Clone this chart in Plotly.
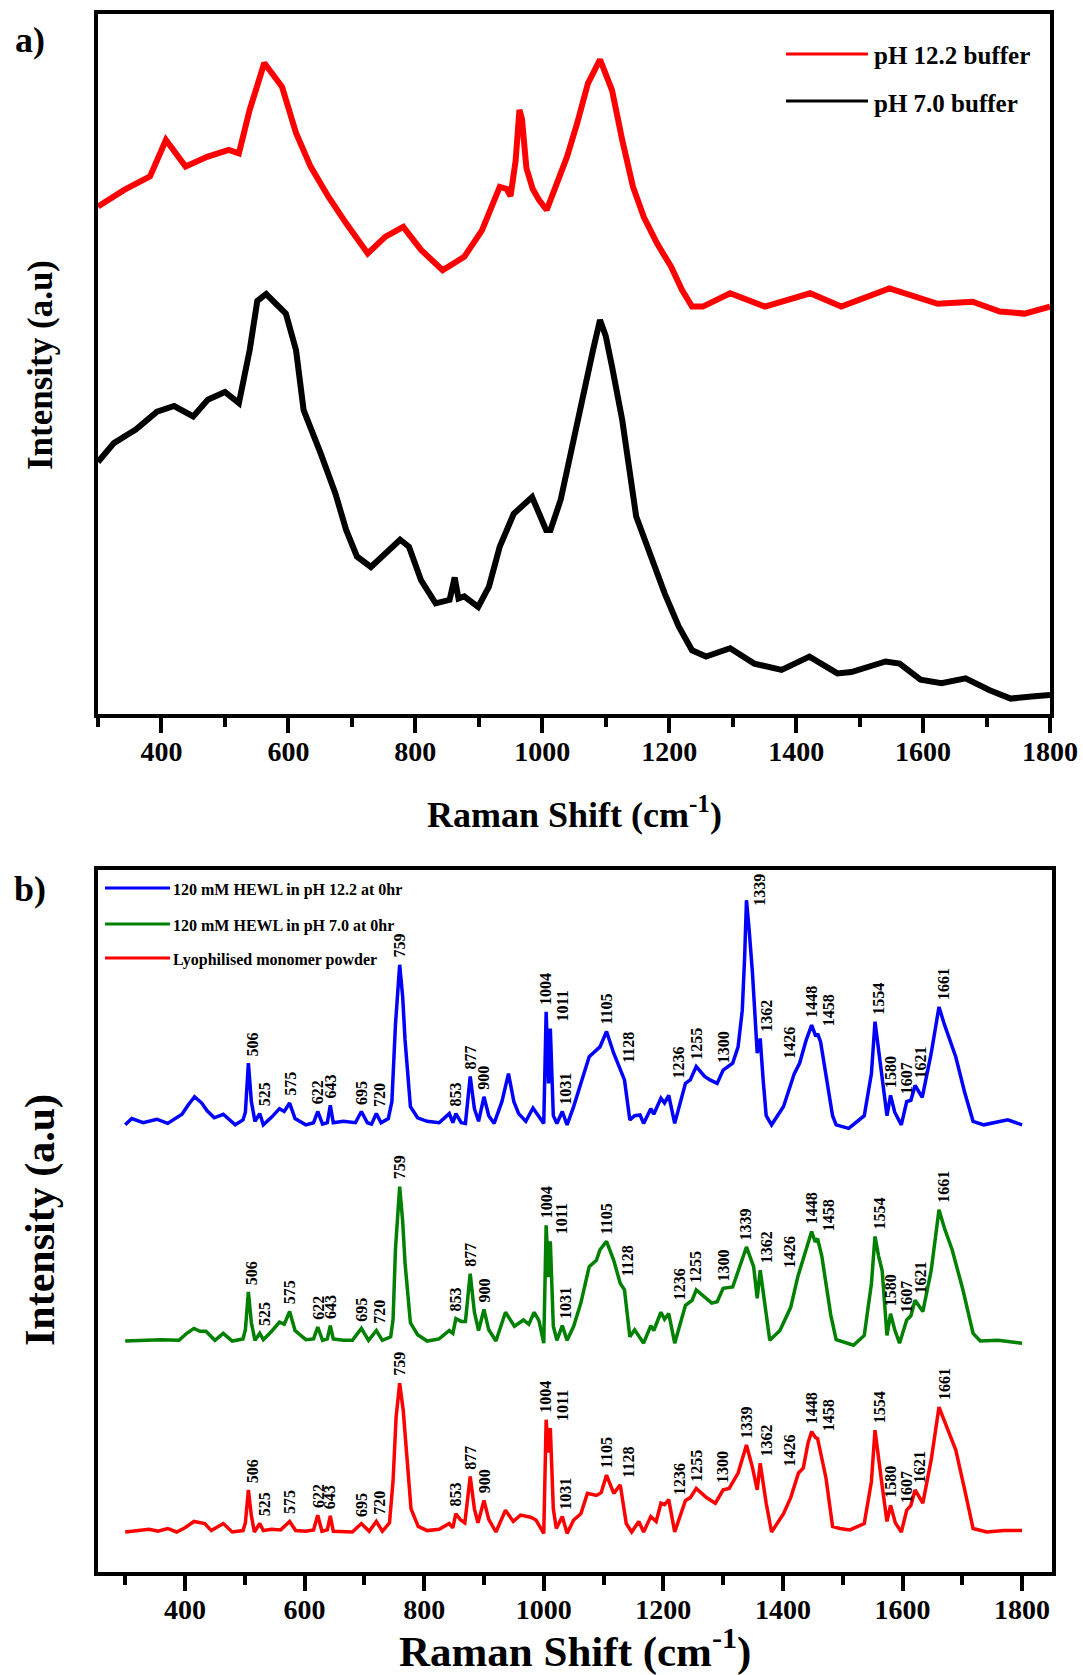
import numpy as np
import plotly.graph_objects as go

FIG_W, FIG_H = 1083, 1675
SERIF = "Liberation Serif"

# ---------------- (a) SERS of the two buffers ----------------
BUF_RED_X = [300, 342, 382, 407, 438, 472, 506, 522, 539, 562, 590, 612, 635, 663, 691,
             725, 753, 781, 809, 843, 877, 905, 933, 944, 950, 958, 964, 968, 975, 985,
             995, 1007, 1023, 1039, 1055, 1072, 1091, 1110, 1126, 1143, 1160, 1181, 1203,
             1220, 1236, 1253, 1296, 1351, 1422, 1471, 1547, 1585, 1623, 1678, 1721, 1760,
             1800]
BUF_RED_Y = [72.5, 74.9, 76.8, 82.0, 78.2, 79.6, 80.6, 80.1, 86.3, 93.0, 89.6, 83.0, 78.2,
             73.9, 70.1, 65.8, 68.2, 69.6, 66.3, 63.4, 65.3, 69.1, 75.3, 75.0, 74.0, 79.0,
             86.3, 85.0, 78.0, 75.0, 73.4, 72.0, 75.8, 79.6, 84.4, 90.1, 93.5, 89.1, 82.0,
             75.3, 71.0, 67.2, 63.9, 60.6, 58.2, 58.2, 60.1, 58.2, 60.1, 58.2, 60.8, 59.6,
             58.6, 58.9, 57.5, 57.2, 58.2]

BUF_BLACK_X = [300, 325, 348, 359, 393, 420, 450, 473, 500, 522, 539, 551, 565, 580, 596,
               612, 624, 651, 674, 691, 708, 730, 753, 776, 790, 809, 832, 854, 862, 868,
               877, 899, 916, 933, 955, 984, 1006, 1013, 1029, 1051, 1067, 1080, 1091,
               1100, 1110, 1126, 1148, 1171, 1193, 1215, 1236, 1258, 1296, 1334, 1377,
               1421, 1465, 1487, 1541, 1563, 1596, 1629, 1667, 1705, 1738, 1771, 1800]
BUF_BLACK_Y = [36.0, 38.7, 40.0, 40.6, 43.2, 44.0, 42.5, 44.9, 46.0, 44.4, 52.0, 59.0, 60.0,
               58.5, 57.2, 52.0, 43.4, 37.2, 31.5, 26.3, 22.5, 21.0, 23.0, 24.9, 23.9, 19.1,
               15.8, 16.3, 19.5, 16.5, 16.8, 15.3, 18.2, 23.9, 28.6, 31.0, 26.3, 26.3, 30.6,
               40.1, 46.0, 52.0, 56.3, 54.0, 49.6, 42.0, 28.2, 22.5, 17.2, 12.5, 9.1, 8.2,
               9.4, 7.2, 6.3, 8.2, 5.8, 6.0, 7.5, 7.2, 4.9, 4.4, 5.1, 3.4, 2.2, 2.5, 2.7]

BUF_NAMES = ["pH 12.2 buffer", "pH 7.0 buffer"]

# ---------------- (b) HEWL Raman spectra ----------------
HEWL_BLUE_X = [300, 311, 330, 353, 371, 395, 405, 416, 428, 437, 449, 464, 484, 497, 501,
               506, 511, 517, 525, 531, 545, 558, 566, 575, 584, 602, 615, 622, 630, 638,
               643, 648, 665, 685, 695, 705, 712, 720, 728, 740, 746, 752, 759, 764, 768,
               777, 789, 805, 825, 842, 848, 853, 862, 869, 877, 884, 891, 900, 908, 917,
               930, 941, 950, 958, 970, 982, 991, 1000, 1004, 1008, 1011, 1016, 1022, 1031,
               1039, 1050, 1062, 1076, 1094, 1105, 1117, 1128, 1135, 1144, 1152, 1161, 1167,
               1179, 1184, 1196, 1202, 1209, 1219, 1237, 1245, 1255, 1269, 1278, 1290, 1300,
               1316, 1325, 1332, 1336, 1339, 1343, 1349, 1357, 1362, 1367, 1372, 1381, 1401,
               1419, 1428, 1439, 1448, 1455, 1458, 1463, 1472, 1483, 1489, 1510, 1536, 1548,
               1554, 1560, 1565, 1574, 1580, 1587, 1598, 1607, 1614, 1621, 1633, 1648, 1661,
               1670, 1689, 1704, 1718, 1736, 1776, 1800]
HEWL_BLUE_Y = [63.7, 64.6, 64.0, 64.5, 63.9, 65.2, 66.5, 67.7, 66.8, 65.7, 64.7, 65.2, 63.7,
               64.4, 65.5, 72.5, 67.0, 64.2, 65.3, 63.7, 64.8, 66.0, 65.6, 66.8, 64.6, 63.7,
               64.0, 65.6, 63.8, 64.0, 66.5, 64.0, 64.2, 64.0, 65.6, 64.0, 63.8, 65.3, 64.0,
               64.6, 67.0, 78.0, 86.5, 82.0, 75.8, 66.3, 64.7, 64.2, 64.0, 65.3, 64.0, 65.3,
               64.0, 63.9, 70.6, 66.0, 64.2, 67.7, 65.0, 63.9, 67.0, 71.0, 67.0, 65.3, 64.2,
               66.1, 65.0, 63.9, 79.8, 69.6, 77.4, 65.0, 63.9, 65.6, 63.7, 66.3, 69.6, 73.4,
               74.8, 77.0, 73.9, 71.5, 70.1, 64.4, 65.0, 65.1, 63.9, 66.0, 65.2, 67.5, 66.8,
               67.9, 63.9, 69.6, 70.1, 72.0, 70.6, 70.1, 69.6, 71.5, 72.5, 74.8, 80.0, 87.7,
               95.7, 92.0, 85.4, 73.9, 76.0, 70.0, 65.0, 63.7, 66.3, 71.0, 72.5, 75.8, 77.9,
               76.3, 76.7, 75.5, 71.0, 65.0, 63.7, 63.2, 65.0, 71.0, 78.4, 74.0, 71.0, 65.0,
               67.9, 65.5, 63.7, 67.0, 67.2, 69.3, 67.6, 73.9, 80.5, 78.0, 73.4, 68.3, 64.2,
               63.7, 64.4, 63.7]

HEWL_GREEN_X = [300, 330, 360, 390, 403, 415, 425, 435, 450, 464, 479, 497, 501, 506, 511,
                517, 525, 531, 545, 558, 566, 575, 584, 602, 615, 622, 630, 638, 643, 648,
                665, 680, 695, 707, 720, 730, 744, 748, 752, 759, 764, 768, 777, 789, 805,
                825, 842, 848, 853, 862, 869, 877, 884, 891, 900, 908, 920, 936, 951, 966,
                975, 984, 992, 1000, 1004, 1008, 1011, 1016, 1022, 1031, 1039, 1050, 1062,
                1076, 1088, 1094, 1105, 1117, 1128, 1135, 1144, 1152, 1159, 1167, 1179, 1184,
                1196, 1202, 1209, 1219, 1237, 1248, 1255, 1269, 1281, 1290, 1300, 1316, 1327,
                1339, 1351, 1357, 1362, 1367, 1372, 1378, 1395, 1413, 1425, 1436, 1448, 1454,
                1458, 1465, 1472, 1480, 1489, 1518, 1536, 1548, 1554, 1560, 1566, 1574, 1580,
                1587, 1595, 1607, 1614, 1621, 1634, 1648, 1661, 1670, 1683, 1701, 1718, 1730,
                1760, 1800]
HEWL_GREEN_Y = [32.9, 33.0, 33.1, 33.0, 34.0, 34.7, 34.3, 34.3, 33.0, 34.0, 32.9, 33.2, 34.5,
                39.9, 35.5, 33.0, 34.0, 33.1, 34.3, 35.6, 35.3, 37.1, 34.4, 33.1, 33.2, 34.9,
                33.0, 33.2, 35.1, 33.2, 33.0, 33.0, 34.7, 33.0, 34.4, 33.0, 33.5, 36.0, 46.0,
                54.9, 50.0, 44.0, 35.5, 33.8, 32.9, 33.2, 34.4, 34.0, 36.1, 35.7, 35.7, 42.5,
                37.0, 34.4, 37.4, 34.5, 32.9, 37.0, 35.0, 35.9, 35.3, 37.0, 35.8, 32.6, 49.4,
                42.0, 47.1, 35.0, 33.0, 35.1, 33.0, 35.0, 38.3, 43.5, 44.4, 45.9, 47.1, 44.4,
                41.1, 40.2, 33.5, 34.5, 33.7, 32.6, 35.1, 34.4, 37.0, 36.0, 36.8, 32.6, 38.0,
                38.7, 40.2, 39.2, 38.3, 38.5, 40.4, 40.6, 43.5, 46.3, 43.5, 39.0, 43.0, 40.0,
                36.6, 33.0, 34.4, 37.7, 42.1, 45.0, 48.5, 47.0, 47.5, 45.0, 41.1, 36.6, 33.1,
                32.3, 33.7, 41.1, 47.8, 45.0, 42.9, 33.7, 36.8, 34.5, 32.6, 35.9, 36.5, 38.7,
                37.1, 43.0, 51.6, 49.0, 45.9, 40.2, 34.0, 32.9, 33.0, 32.6]

HEWL_RED_X = [300, 320, 340, 355, 371, 386, 400, 415, 433, 444, 464, 479, 497, 501, 506,
              511, 516, 525, 531, 545, 560, 575, 585, 602, 615, 622, 629, 638, 643, 648,
              665, 680, 695, 708, 720, 730, 742, 748, 753, 759, 765, 770, 778, 790, 805,
              825, 842, 848, 853, 861, 868, 877, 884, 890, 900, 908, 920, 936, 949, 961,
              978, 987, 1000, 1004, 1008, 1011, 1016, 1021, 1031, 1039, 1050, 1062, 1073,
              1088, 1096, 1105, 1117, 1128, 1138, 1147, 1159, 1167, 1179, 1188, 1196, 1202,
              1209, 1219, 1237, 1245, 1255, 1272, 1287, 1300, 1310, 1325, 1339, 1349, 1357,
              1362, 1372, 1381, 1401, 1413, 1426, 1434, 1442, 1448, 1454, 1458, 1472, 1483,
              1495, 1512, 1536, 1548, 1554, 1565, 1574, 1580, 1588, 1598, 1607, 1614, 1621,
              1634, 1648, 1661, 1670, 1689, 1704, 1718, 1741, 1770, 1800]
HEWL_RED_Y = [5.7, 5.9, 6.1, 5.8, 6.2, 5.7, 6.3, 7.2, 6.9, 5.9, 6.9, 5.7, 5.9, 7.0, 11.7,
              8.0, 5.7, 6.9, 5.9, 6.1, 6.0, 7.2, 5.9, 5.8, 6.0, 8.1, 5.8, 6.0, 8.0, 5.8,
              5.8, 5.7, 6.9, 5.8, 7.2, 5.8, 7.0, 13.0, 22.0, 26.9, 23.0, 17.0, 9.0, 6.5, 5.9,
              6.1, 6.9, 6.3, 8.3, 7.4, 7.0, 13.6, 9.0, 7.0, 10.2, 7.5, 5.7, 8.8, 7.2, 8.1,
              7.8, 7.4, 5.5, 21.7, 17.0, 20.5, 9.0, 6.2, 7.9, 5.5, 7.4, 8.3, 11.2, 10.9,
              11.3, 13.8, 11.2, 12.4, 6.9, 5.7, 7.2, 5.7, 7.9, 7.2, 9.8, 9.6, 10.3, 5.7,
              10.2, 10.6, 11.9, 10.6, 9.8, 11.7, 11.9, 14.1, 18.1, 14.9, 11.7, 15.5, 9.8,
              5.7, 8.3, 10.6, 14.1, 14.8, 18.4, 20.0, 19.2, 19.0, 13.4, 6.5, 6.2, 6.0, 6.9,
              12.9, 20.2, 12.9, 7.2, 9.5, 7.0, 5.7, 8.8, 9.5, 11.7, 9.8, 16.0, 23.5, 21.5,
              17.4, 11.7, 6.2, 5.7, 5.9, 5.9]

HEWL_NAMES = ["120 mM HEWL in pH 12.2 at 0hr",
              "120 mM HEWL in pH 7.0 at 0hr",
              "Lyophilised monomer powder"]

PEAK_LABELS = [506, 525, 575, 622, 643, 695, 720, 759, 853, 877, 900, 1004, 1011, 1031,
               1105, 1128, 1236, 1255, 1300, 1339, 1362, 1426, 1448, 1458, 1554, 1580,
               1607, 1621, 1661]

MAJOR_TICKS = [400, 600, 800, 1000, 1200, 1400, 1600, 1800]
MINOR_TICKS = [300, 500, 700, 900, 1100, 1300, 1500, 1700]

# horizontal nudges (px) that keep crowded peak labels apart
LABEL_DX = {506: 4, 525: 5, 720: 3, 1011: 12, 1031: 3, 1128: 8, 1236: -6, 1362: 6,
            1426: -9, 1458: 11, 1554: 4, 1621: 5, 1661: 5}
LABEL_GAP = 5

RED, BLACK, BLUE, GREEN = "#ff0000", "#000000", "#0000ff", "#008000"


def fx(px):
    return px / FIG_W


def fy(py):
    return 1 - py / FIG_H


fig = go.Figure()

# panel (a) traces
for xs, ys, col in [(BUF_RED_X, BUF_RED_Y, RED), (BUF_BLACK_X, BUF_BLACK_Y, BLACK)]:
    fig.add_trace(go.Scatter(x=xs, y=ys, mode="lines", xaxis="x", yaxis="y",
                             line=dict(color=col, width=6), showlegend=False,
                             hoverinfo="skip"))

# panel (b) traces
hewl = [(HEWL_BLUE_X, HEWL_BLUE_Y, BLUE, "blue"),
        (HEWL_GREEN_X, HEWL_GREEN_Y, GREEN, "green"),
        (HEWL_RED_X, HEWL_RED_Y, RED, "red")]
for xs, ys, col, _ in hewl:
    fig.add_trace(go.Scatter(x=xs, y=ys, mode="lines", xaxis="x2", yaxis="y2",
                             line=dict(color=col, width=3.5), showlegend=False,
                             hoverinfo="skip"))

annotations = []
shapes = []

# peak labels, standing on each spectrum
for xs, ys, col, key in hewl:
    for wn in PEAK_LABELS:
        base = float(np.interp(wn, xs, ys))
        dx = LABEL_DX.get(wn, 0)
        dy = LABEL_GAP
        if key == "blue" and wn == 1339:
            dx, dy = 13, -7
        annotations.append(dict(
            x=wn, y=base, xref="x2", yref="y2", text=str(wn), showarrow=False,
            textangle=-90, xanchor="center", yanchor="bottom", xshift=dx, yshift=dy,
            font=dict(family=SERIF, size=16, color="black", weight="bold")))

# legend of panel (a)
for i, (name, col) in enumerate(zip(BUF_NAMES, [RED, BLACK])):
    yy = [54, 101][i]
    shapes.append(dict(type="line", xref="paper", yref="paper", x0=fx(786), x1=fx(868),
                       y0=fy(yy), y1=fy(yy), line=dict(color=col, width=3)))
    annotations.append(dict(x=fx(872), y=fy(yy + 2), xref="paper", yref="paper",
                            text=name, showarrow=False, xanchor="left", yanchor="middle",
                            font=dict(family=SERIF, size=25, color="black", weight="bold")))

# legend of panel (b)
for i, (name, col) in enumerate(zip(HEWL_NAMES, [BLUE, GREEN, RED])):
    yy = [888, 924, 958][i]
    shapes.append(dict(type="line", xref="paper", yref="paper", x0=fx(105), x1=fx(170),
                       y0=fy(yy), y1=fy(yy), line=dict(color=col, width=3)))
    annotations.append(dict(x=fx(171), y=fy(yy + 2), xref="paper", yref="paper",
                            text=name, showarrow=False, xanchor="left", yanchor="middle",
                            font=dict(family=SERIF, size=16, color="black", weight="bold")))


# panel tags and axis titles
def label(text, x, y, size, angle=0):
    annotations.append(dict(x=fx(x), y=fy(y), xref="paper", yref="paper", text=text,
                            showarrow=False, textangle=angle, xanchor="center",
                            yanchor="middle",
                            font=dict(family=SERIF, size=size, color="black",
                                      weight="bold")))


label("a)", 30, 40, 36)
label("b)", 30, 889, 36)
label("Raman Shift (cm<sup>-1</sup>)", 574, 812, 36)
label("Intensity (a.u)", 40, 365, 35, -90)
label("Raman Shift (cm<sup>-1</sup>)", 575, 1648, 43)
label("Intensity (a.u)", 40, 1220, 42, -90)

tickfont = dict(family=SERIF, size=28, color="black", weight="bold")
xcommon = dict(showline=True, linecolor="black", linewidth=4, mirror=True,
               showgrid=False, zeroline=False, automargin=False, tickmode="array",
               tickvals=MAJOR_TICKS, ticktext=[str(t) for t in MAJOR_TICKS],
               ticks="outside", ticklen=15, tickwidth=4, tickcolor="black",
               ticklabelstandoff=-6,
               minor=dict(tickmode="array", tickvals=MINOR_TICKS, ticks="outside",
                          ticklen=9, tickwidth=4, tickcolor="black"),
               tickfont=tickfont)
ycommon = dict(showline=True, linecolor="black", linewidth=4, mirror=True,
               showgrid=False, zeroline=False, automargin=False,
               showticklabels=False, ticks="", range=[0, 100])

fig.update_layout(
    width=FIG_W, height=FIG_H, autosize=False,
    margin=dict(l=0, r=0, t=0, b=0, pad=0),
    paper_bgcolor="white", plot_bgcolor="white",
    showlegend=False,
    xaxis=dict(xcommon, domain=[fx(98), fx(1050)], range=[300, 1800], anchor="y"),
    yaxis=dict(ycommon, domain=[fy(714), fy(14)], anchor="x"),
    xaxis2=dict(xcommon, domain=[fx(97.7), fx(1052)], range=[254, 1850], anchor="y2"),
    yaxis2=dict(ycommon, domain=[fy(1572), fy(870)], anchor="x2"),
    annotations=annotations,
    shapes=shapes,
)

fig.write_html("out.html")
